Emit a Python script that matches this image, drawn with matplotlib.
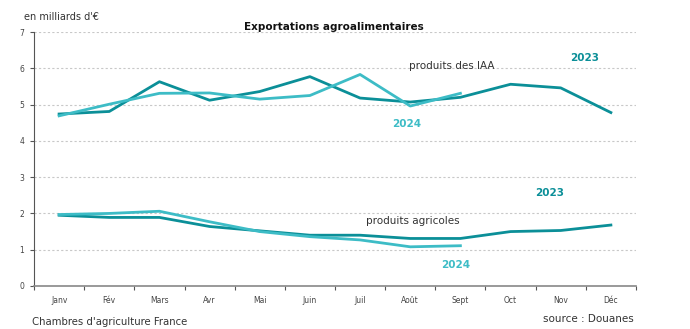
import matplotlib
matplotlib.use('Agg')
from matplotlib import pyplot as plt
import numpy as np

mois = ['Janv', 'Fév', 'Mars', 'Avr', 'Mai', 'Juin', 'Juil', 'Août', 'Sept', 'Oct', 'Nov', 'Déc']

# produits des IAA
iaa_2023 = [4.74, 4.81, 5.63, 5.12, 5.36, 5.77, 5.18, 5.07, 5.20, 5.56, 5.46, 4.78]
iaa_2024 = [4.69, 5.01, 5.31, 5.32, 5.15, 5.25, 5.83, 4.96, 5.31]

# produits agricoles
agri_2023 = [1.95, 1.89, 1.89, 1.64, 1.52, 1.40, 1.40, 1.31, 1.31, 1.50, 1.53, 1.68]
agri_2024 = [1.97, 2.00, 2.06, 1.77, 1.50, 1.36, 1.27, 1.08, 1.11]

c23 = '#0b8f98'
c24 = '#3dbcc6'

fig = plt.figure(figsize=(6.9, 3.29), dpi=100)
ax = fig.add_axes([0.0493, 0.1307, 0.8724, 0.772])

x = np.arange(len(mois)) + 0.5
ax.plot(x, iaa_2023, color=c23, lw=2)
ax.plot(x[:len(iaa_2024)], iaa_2024, color=c24, lw=2)
ax.plot(x, agri_2023, color=c23, lw=2)
ax.plot(x[:len(agri_2024)], agri_2024, color=c24, lw=2)

ax.set_xlim(0, 12)
ax.set_ylim(0, 7)
ax.set_xticks(range(13))
ax.set_xticklabels([])
ax.set_xticks(x, minor=True)
ax.set_xticklabels(mois, minor=True, fontsize=5.5, color='#444444')
ax.tick_params(axis='x', which='minor', length=0, pad=7)
ax.tick_params(axis='x', which='major', length=3, color='#555555', direction='out')
ax.set_yticks(range(8))
ax.tick_params(axis='y', labelsize=5.5, labelcolor='#444444', length=3, color='#555555', pad=4)

for y in range(1, 8):
    ax.axhline(y, color='#c8c8c8', lw=0.8, ls=(0, (2, 2)), zorder=0)

for s in ['top', 'right']:
    ax.spines[s].set_visible(False)
ax.spines['left'].set_color('#555555')
ax.spines['bottom'].set_color('#888888')
ax.spines['bottom'].set_linewidth(1.2)

ax.text(8.33, 5.98, 'produits des IAA', fontsize=7.5, color='#333333', ha='center')
ax.text(10.98, 6.2, '2023', fontsize=7.5, color=c23, fontweight='bold', ha='center')
ax.text(7.43, 4.38, '2024', fontsize=7.5, color=c24, fontweight='bold', ha='center')
ax.text(7.55, 1.7, 'produits agricoles', fontsize=7.5, color='#333333', ha='center')
ax.text(10.27, 2.47, '2023', fontsize=7.5, color=c23, fontweight='bold', ha='center')
ax.text(8.41, 0.5, '2024', fontsize=7.5, color=c24, fontweight='bold', ha='center')

fig.text(0.035, 0.94, "en milliards d'€", fontsize=7, color='#333333')
fig.text(0.484, 0.91, 'Exportations agroalimentaires', fontsize=7.5, fontweight='bold', ha='center', color='#111111')
fig.text(0.046, 0.012, "Chambres d'agriculture France", fontsize=7.3, color='#333333')
fig.text(0.918, 0.022, 'source : Douanes', fontsize=7.5, color='#333333', ha='right')

plt.savefig('out.png', dpi=100)
plt.close()
